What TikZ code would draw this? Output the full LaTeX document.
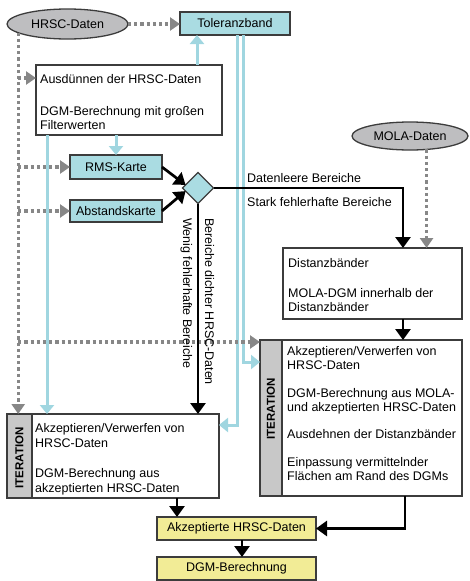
\documentclass[tikz,border=0pt]{standalone}
\usepackage{fontspec}
\setmainfont{Liberation Sans}
\usetikzlibrary{shapes.geometric,arrows.meta,calc}
\definecolor{lblue}{RGB}{170,220,226}
\definecolor{lline}{RGB}{160,214,224}
\definecolor{egray}{RGB}{190,190,192}
\definecolor{dgray}{RGB}{135,135,135}
\definecolor{bord}{RGB}{60,60,60}
\definecolor{yel}{RGB}{242,236,150}
\definecolor{sgray}{RGB}{200,200,200}
\begin{document}
\begin{tikzpicture}[x=1pt,y=-1pt,font=\fontsize{12.5}{15}\selectfont,
 box/.style={draw=bord,line width=1.3pt,rectangle,inner sep=0,outer sep=0,anchor=north west,fill=white},
 bbox/.style={box,fill=lblue},
 ybox/.style={box,fill=yel},
 sbox/.style={box,fill=sgray},
 ell/.style={draw=bord,line width=1.3pt,ellipse,fill=egray,inner sep=0,outer sep=0},
 tl/.style={anchor=base west,inner sep=0},
 itxt/.style={inner sep=0,rotate=90,font=\bfseries\fontsize{11.5}{12}\selectfont},
 dotarr/.style={dgray,line width=3.2pt,dash pattern=on 3.2pt off 3pt,-{Triangle[width=13pt,length=10pt]}},
 bluarr/.style={lline,line width=3pt,-{Triangle[width=14pt,length=9pt]}},
 blkarr/.style={black,line width=2.7pt,-{Triangle[width=15pt,length=11pt]}}
]
\useasboundingbox (0,0) rectangle (469,581);

% nodes
\node[ell,minimum width=121,minimum height=30] (hrsc) at (67.5,24) {HRSC-Daten};
\node[bbox,minimum width=110,minimum height=23] (tol) at (180,12) {Toleranzband};
\node[box,minimum width=186,minimum height=70] (aus) at (36,65) {};
\node[bbox,minimum width=92,minimum height=24] (rms) at (70,155) {RMS-Karte};
\node[bbox,minimum width=92,minimum height=22] (abs) at (70,200) {Abstandskarte};
\node[draw=bord,line width=1.3pt,diamond,fill=lblue,inner sep=0,outer sep=0,minimum width=31,minimum height=31] (dia) at (198,188) {};
\node[ell,minimum width=116,minimum height=28] (mola) at (410,136) {MOLA-Daten};
\node[box,minimum width=179,minimum height=71] (dist) at (283,248) {};
\node[box,minimum width=212,minimum height=84] (itL) at (7,414) {};
\node[sbox,minimum width=25,minimum height=84] (itLs) at (7,414) {};
\node[box,minimum width=202,minimum height=156] (itR) at (260,340) {};
\node[sbox,minimum width=22,minimum height=156] (itRs) at (260,340) {};
\node[ybox,minimum width=159,minimum height=23] (akz) at (157,517) {Akzeptierte HRSC-Daten};
\node[ybox,minimum width=159,minimum height=23] (dgm) at (157,557) {DGM-Berechnung};

% texts in boxes
\node[tl] (a1) at (40,83) {Ausdünnen der HRSC-Daten};
\node[tl] (a2) at (40,115) {DGM-Berechnung mit großen};
\node[tl] (a3) at (40,129.5) {Filterwerten};
\node[tl] (d1t) at (288,267) {Distanzbänder};
\node[tl] (d2t) at (288,297) {MOLA-DGM innerhalb der};
\node[tl] (d3t) at (288,311.5) {Distanzbänder};
\node[tl] (L1) at (35,432) {Akzeptieren/Verwerfen von};
\node[tl] (L2) at (35,447) {HRSC-Daten};
\node[tl] (L3) at (35,477) {DGM-Berechnung aus};
\node[tl] (L4) at (35,492) {akzeptierten HRSC-Daten};
\node[tl] (R1) at (287,355) {Akzeptieren/Verwerfen von};
\node[tl] (R2) at (287,369) {HRSC-Daten};
\node[tl] (R3) at (287,397) {DGM-Berechnung aus MOLA-};
\node[tl] (R4) at (287,411) {und akzeptierten HRSC-Daten};
\node[tl] (R5) at (287,438) {Ausdehnen der Distanzbänder};
\node[tl] (R6) at (287,466) {Einpassung vermittelnder};
\node[tl] (R7) at (287,480) {Flächen am Rand des DGMs};
\node[itxt] (itLt) at (19.5,458) {ITERATION};
\node[itxt] (itRt) at (271,409) {ITERATION};

% light blue connectors
\coordinate (b1) at ($(aus.north west)+(161,0)$);
\draw[bluarr] (b1) -- (b1 |- tol.south);
\draw[bluarr] (aus.south -| rms.north) -- (rms.north);
\coordinate (b3) at ($(aus.south west)+(11,0)$);
\draw[bluarr] (b3) -- (b3 |- itL.north);
\coordinate (b4) at ($(tol.south west)+(57,0)$);
\coordinate (lin) at ($(itL.north east)+(0,11)$);
\draw[bluarr] (b4) |- (lin);
\coordinate (b5) at ($(tol.south west)+(63,0)$);
\coordinate (rin) at ($(itR.north west)+(0,22)$);
\draw[bluarr] (b5) |- (rin);

% dotted connectors
\draw[dotarr] (hrsc.east) -- (hrsc.east -| tol.west);
\coordinate (hv) at (hrsc.190.5);
\draw[dotarr] (hv) -- (hv |- itL.north);
\coordinate (ausin) at ($(aus.north west)+(0,13)$);
\draw[dotarr] (hv |- ausin) -- (ausin);
\draw[dotarr] (hv |- rms.west) -- (rms.west);
\draw[dotarr] (hv |- abs.west) -- (abs.west);
\coordinate (itRin) at ($(itR.north west)+(0,2)$);
\draw[dotarr] (hv |- itRin) -- (itRin);
\coordinate (mv) at (mola.321.8);
\draw[dotarr] (mv) -- (mv |- dist.north);

% black connectors
\draw[blkarr] (rms.east) -- (dia.166);
\draw[blkarr] (abs.east) -- (dia.194);
\coordinate (d1) at ($(dist.north west)+(120,0)$);
\draw[blkarr] (dia.east) -| (d1);
\draw[blkarr] (dia.south) -- (dia.south |- itL.north);
\draw[blkarr] (d1 |- dist.south) -- (d1 |- itR.north);
\coordinate (k1) at ($(itL.south west)+(170,0)$);
\draw[blkarr] (k1) -- (k1 |- akz.north);
\coordinate (k2) at ($(itR.south west)+(145,0)$);
\draw[blkarr] (k2) |- (akz.east);
\coordinate (k3) at ($(akz.south west)+(85,0)$);
\draw[blkarr] (k3) -- (k3 |- dgm.north);

% labels
\node[tl] (l1) at (247,182.5) {Datenleere Bereiche};
\node[tl] (l2) at (247,206) {Stark fehlerhafte Bereiche};
\node[tl,rotate=-90] (l3) at (205,218) {Bereiche dichter HRSC-Daten};
\node[tl,rotate=-90] (l4) at (183,218) {Wenig fehlerhafte Bereiche};
\end{tikzpicture}
\end{document}
